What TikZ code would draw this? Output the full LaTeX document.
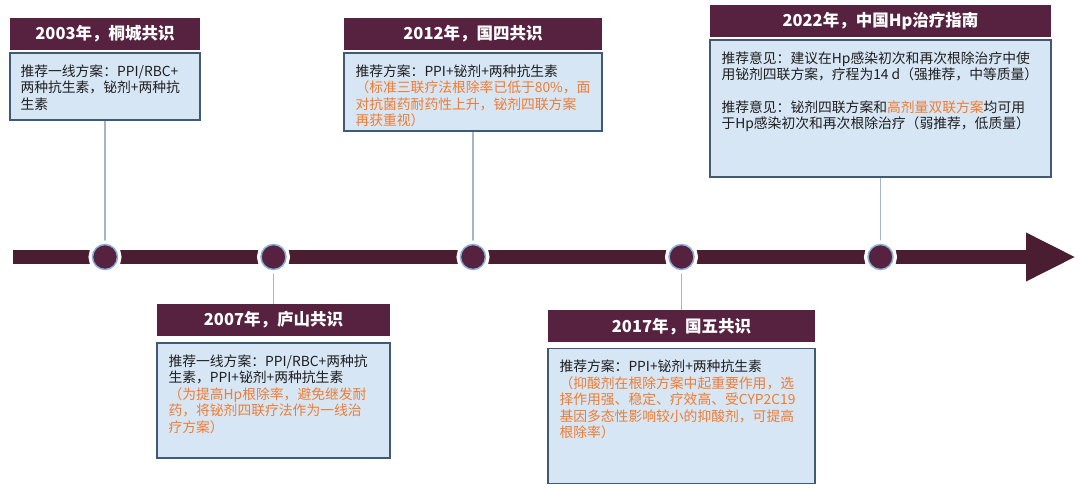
\documentclass[tikz,border=0pt]{standalone}
\usepackage{fontspec}
\setmainfont{Noto Sans CJK SC}
\usetikzlibrary{arrows.meta,positioning,calc}
\definecolor{hpPlum}{HTML}{57223F}
\definecolor{hpBar}{HTML}{4B1D31}
\definecolor{hpFill}{HTML}{D7E6F5}
\definecolor{hpEdge}{HTML}{3F5A72}
\definecolor{hpStem}{HTML}{A6B4C8}
\definecolor{hpRing}{HTML}{8DB0DA}
\definecolor{hpOrange}{HTML}{F07C30}
\definecolor{hpText}{HTML}{1E1E1E}

\begin{document}
\begin{tikzpicture}[
  x=1pt, y=-1pt,
  font=\fontsize{13.8}{16.5}\selectfont,
  title/.style={fill=hpPlum, text=white, font=\fontsize{16.5}{19}\selectfont\bfseries, minimum height=32pt, inner sep=0pt},
  body/.style={draw=hpEdge, fill=hpFill, line width=1.4pt, inner sep=0pt},
  note/.style={anchor=north west, align=left, text=hpText, inner sep=0pt},
  stem/.style={draw=hpStem, line width=1.6pt},
  bar/.style={draw=hpBar, line width=14pt, -{Triangle[length=50pt,width=45pt]}},
  dot/.style={circle, fill=hpPlum, draw=hpRing, line width=1.5pt, minimum size=25pt, inner sep=0pt, preaction={draw=white, line width=8pt}}
]
\useasboundingbox (0,0) rectangle (1080,489);

% milestones above the axis
\node[title, minimum width=190pt] (t03) at (105,34) {2003年，桐城共识};
\node[body, minimum width=190pt, minimum height=67pt, below=2pt of t03] (b03) {};
\node[note] (n03) at ($(b03.north west)+(11,12)$) {推荐一线方案：PPI/RBC+\\两种抗生素，铋剂+两种抗\\生素};

\node[title, minimum width=258pt] (t12) at (473,34) {2012年，国四共识};
\node[body, minimum width=258pt, minimum height=78pt, below=2pt of t12] (b12) {};
\node[note] (n12) at ($(b12.north west)+(12,12)$) {推荐方案：PPI+铋剂+两种抗生素\\
  {\color{hpOrange}（标准三联疗法根除率已低于80\%，面}\\
  {\color{hpOrange}对抗菌药耐药性上升，铋剂四联方案}\\
  {\color{hpOrange}再获重视）}};

\node[title, minimum width=341pt] (t22) at (880.5,21) {2022年，中国Hp治疗指南};
\node[body, minimum width=341pt, minimum height=137pt, below=2pt of t22] (b22) {};
\node[note] (n22) at ($(b22.north west)+(12,12)$) {推荐意见：建议在Hp感染初次和再次根除治疗中使\\
  用铋剂四联方案，疗程为14 d（强推荐，中等质量）\\[16pt]
  推荐意见：铋剂四联方案和{\color{hpOrange}高剂量双联方案}均可用\\
  于Hp感染初次和再次根除治疗（弱推荐，低质量）};

% milestones below the axis
\node[title, minimum width=233pt] (t07) at (273.5,320) {2007年，庐山共识};
\node[body, minimum width=233pt, minimum height=115pt, below=6pt of t07] (b07) {};
\node[note] (n07) at ($(b07.north west)+(12,12)$) {推荐一线方案：PPI/RBC+两种抗\\生素，PPI+铋剂+两种抗生素\\
  {\color{hpOrange}（为提高Hp根除率，避免继发耐}\\
  {\color{hpOrange}药，将铋剂四联疗法作为一线治}\\
  {\color{hpOrange}疗方案）}};

\node[title, minimum width=267pt] (t17) at (681.5,326.5) {2017年，国五共识};
\node[body, minimum width=267pt, minimum height=135pt, below=5pt of t17] (b17) {};
\node[note] (n17) at ($(b17.north west)+(12,12)$) {推荐方案：PPI+铋剂+两种抗生素\\
  {\color{hpOrange}（抑酸剂在根除方案中起重要作用，选}\\
  {\color{hpOrange}择作用强、稳定、疗效高、受CYP2C19}\\
  {\color{hpOrange}基因多态性影响较小的抑酸剂，可提高}\\
  {\color{hpOrange}根除率）}};

% time axis
\coordinate (axisStart) at (13,257);
\coordinate (axisEnd) at (1076,257);
\coordinate (m03) at (105,257);
\coordinate (m07) at (273.5,257);
\coordinate (m12) at (473,257);
\coordinate (m17) at (681.5,257);
\coordinate (m22) at (880.5,257);
\draw[bar] (axisStart) -- (axisEnd);

\draw[stem] (b03) -- (m03);
\draw[stem] (b12) -- (m12);
\draw[stem] (b22) -- (m22);
\draw[stem] (t07) -- (m07);
\draw[stem] (t17) -- (m17);

\node[dot] (d03) at (m03) {};
\node[dot] (d07) at (m07) {};
\node[dot] (d12) at (m12) {};
\node[dot] (d17) at (m17) {};
\node[dot] (d22) at (m22) {};
\end{tikzpicture}
\end{document}
